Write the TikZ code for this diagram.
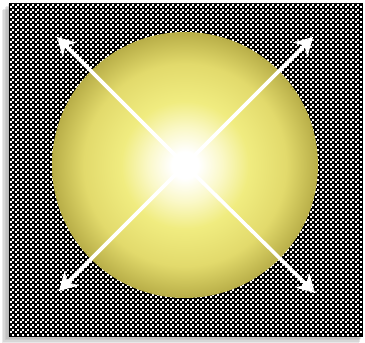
\documentclass[tikz,border=0pt]{standalone}
\usetikzlibrary{arrows.meta,patterns.meta}
\definecolor{glowA}{HTML}{FAF8C8}
\definecolor{glowB}{HTML}{F0EC80}
\definecolor{glowC}{HTML}{E2DA6C}
\definecolor{glowD}{HTML}{B8AE48}
\pgfdeclareradialshading{sunglow}{\pgfpoint{0bp}{0bp}}{%
  color(0bp)=(white); color(2.5bp)=(white); color(7bp)=(glowA);
  color(12bp)=(glowB); color(19bp)=(glowC); color(25bp)=(glowD); color(50bp)=(glowD)}
\tikzdeclarepattern{name=checkdots, type=uncolored,
  bottom left={(0pt,0pt)}, top right={(5pt,5pt)}, tile size={(5pt,5pt)},
  code={\fill (0pt,0pt) rectangle (2.2pt,2.2pt); \fill (2.5pt,2.5pt) rectangle (4.7pt,4.7pt);}}
\tikzset{
  ray/.style={draw=white, line width=3.6pt, -{Stealth[length=18pt,width=20pt,inset=6pt]}},
  shadowband/.style={fill=black!35, opacity=0.25}
}
\begin{document}
\begin{tikzpicture}[x=1pt,y=-1pt]
\useasboundingbox (0,0) rectangle (365,343);
\fill[white] (0,0) rectangle (365,343);
% soft shadow
\foreach \d in {1,2,3,4,5}{
  \fill[shadowband] (9-\d*1.4,3+\d*1.4) rectangle (362-\d*0.6,336+\d*1.4);
}
\fill[black] (9,3) rectangle (362,336);
\fill[pattern={checkdots}, pattern color=white] (9,3) rectangle (362,336);
\draw[black, line width=1pt] (9,3) rectangle (362,336);
% sphere
\shade[shading=sunglow] (185,165) circle[radius=133];
\node[inner sep=0pt, minimum size=0pt] (c) at (185,165) {};
\coordinate (tl) at (57,37);
\coordinate (tr) at (313,37);
\coordinate (bl) at (59,291);
\coordinate (br) at (315,293);
\draw[ray] (c.center) -- (tl);
\draw[ray] (c.center) -- (tr);
\draw[ray] (c.center) -- (bl);
\draw[ray] (c.center) -- (br);
\end{tikzpicture}
\end{document}
